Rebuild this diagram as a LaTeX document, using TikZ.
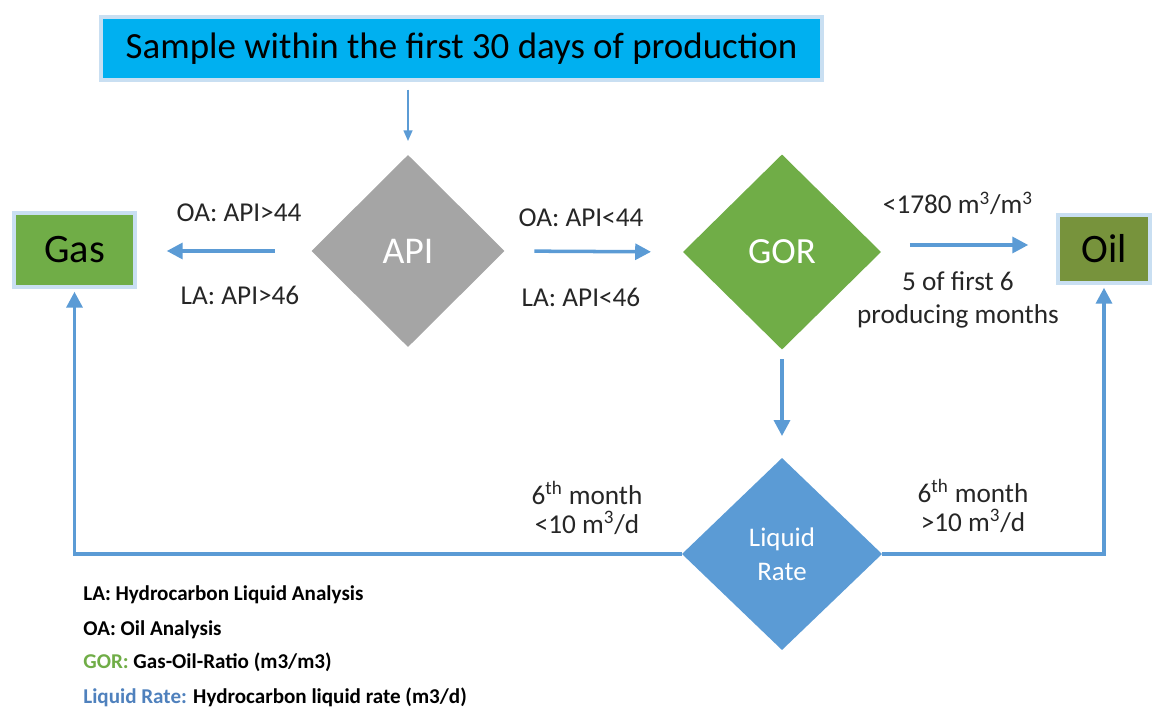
\documentclass[tikz,border=0pt]{standalone}
\usepackage{fontspec}
\setmainfont{Carlito}
\usetikzlibrary{shapes.geometric,arrows.meta}

\definecolor{skyfill}{HTML}{00B0F0}
\definecolor{glowblue}{HTML}{C9DFF2}
\definecolor{flowblue}{HTML}{5B9BD5}
\definecolor{apigray}{HTML}{A5A5A5}
\definecolor{gorgreen}{HTML}{70AD47}
\definecolor{oilgreen}{HTML}{77933C}
\definecolor{keyblue}{HTML}{4F81BD}

\tikzset{
  decision/.style={diamond, aspect=1, inner sep=0pt, outer sep=0pt, text=white},
  endbox/.style={rectangle, draw=glowblue, line width=2pt, inner sep=0pt},
  flow/.style={draw=flowblue, line width=2pt, -{Triangle[length=9pt,width=9pt]}},
  lbl/.style={font=\fontsize{15.5}{18.6}\selectfont, align=center, text=black!85},
  key/.style={anchor=west, inner sep=0pt, font=\bfseries\fontsize{12}{14}\selectfont}
}

\begin{document}
\begin{tikzpicture}[x=0.02cm,y=-0.02cm]
  \useasboundingbox (0,0) rectangle (1161,709);

  % sample box
  \node[endbox, fill=skyfill, minimum width=14.42cm, minimum height=1.26cm,
        font=\fontsize{21}{25}\selectfont] (sample) at (461.5,48.5)
        {Sample within the first 30 days of production};

  % API, GOR, Liquid Rate
  \node[decision, fill=apigray, minimum width=3.86cm, minimum height=3.84cm,
        font=\fontsize{21.5}{25}\selectfont] (api) at (408,251) {API};
  \node[decision, fill=gorgreen, minimum width=3.96cm, minimum height=3.9cm,
        font=\fontsize{21}{25}\selectfont] (gor) at (782,252) {GOR};
  \node[decision, fill=flowblue, minimum width=4cm, minimum height=3.84cm,
        font=\fontsize{15.3}{19.2}\selectfont, align=center] (liq) at (782,554)
        {Liquid\\Rate};

  % Gas, Oil
  \node[endbox, fill=gorgreen, minimum width=2.42cm, minimum height=1.48cm,
        font=\fontsize{23}{27}\selectfont] (gas) at (74.5,250) {Gas};
  \node[endbox, fill=oilgreen, minimum width=1.84cm, minimum height=1.36cm,
        font=\fontsize{23}{27}\selectfont] (oil) at (1104,249) {Oil};

  % sample--API
  \draw[draw=flowblue, line width=0.9pt, -{Triangle[length=6pt,width=5pt]},
        shorten <=0.16cm, shorten >=0.28cm] (sample.south -| api.north) -- (api.north);

  % API--Gas
  \draw[flow, shorten <=0.74cm, shorten >=0.6cm] (api.west) -- (api.west -| gas.east);
  \node[lbl] (oagas) at (239,213) {OA: API>44};
  \node[lbl] (lagas) at (240,295) {LA: API>46};

  % API--GOR
  \draw[flow, shorten <=0.6cm, shorten >=0.64cm] (api.east) -- (gor.west);
  \node[lbl] (oagor) at (581,218) {OA: API<44};
  \node[lbl] (lagor) at (581,297) {LA: API<46};

  % GOR--Oil
  \coordinate (gorout) at (882,245);
  \draw[flow, shorten <=0.56cm, shorten >=0.56cm] (gorout) -- (gorout -| oil.west);
  \node[lbl] (gorlim) at (958,203) {<1780 m\textsuperscript{3}/m\textsuperscript{3}};
  \node[lbl] (gormon) at (958,300) {5 of first 6\\producing months};

  % GOR--Liquid Rate
  \draw[flow, shorten <=0.2cm, shorten >=0.44cm] (gor.south) -- (liq.north);

  % Liquid Rate--Gas, Liquid Rate--Oil
  \draw[flow, shorten >=0.06cm] (liq.west) -| (gas.south);
  \draw[flow, shorten >=0.06cm] (liq.east) -| (oil.south);
  \node[lbl, font=\fontsize{15.5}{16.5}\selectfont] (lowrate) at (587,508)
        {6\textsuperscript{th} month\\<10 m\textsuperscript{3}/d};
  \node[lbl, font=\fontsize{15.5}{16.5}\selectfont] (highrate) at (973,506)
        {6\textsuperscript{th} month\\>10 m\textsuperscript{3}/d};

  % key
  \node[key] (keyla)  at (83,595) {LA: Hydrocarbon Liquid Analysis};
  \node[key] (keyoa)  at (83,630) {OA: Oil Analysis};
  \node[key] (keygor) at (83,662) {\textcolor{gorgreen}{GOR:} Gas-Oil-Ratio (m3/m3)};
  \node[key] (keyliq) at (83,697) {\textcolor{keyblue}{Liquid Rate:} Hydrocarbon liquid rate (m3/d)};
\end{tikzpicture}
\end{document}
